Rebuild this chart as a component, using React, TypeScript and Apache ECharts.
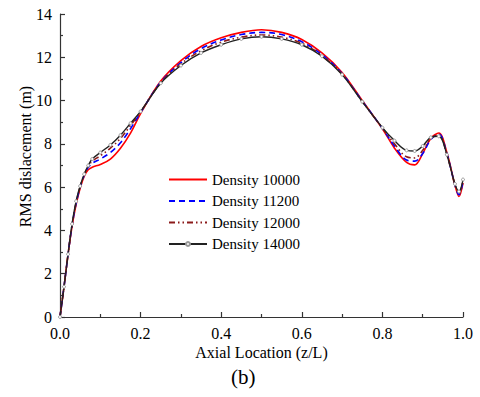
import React, { useEffect, useRef } from "react";
import * as echarts from "echarts";

const zPos = [0, 0.01, 0.02, 0.03, 0.04, 0.05, 0.06, 0.07, 0.08, 0.1, 0.125, 0.15, 0.175, 0.2, 0.25, 0.3, 0.35, 0.4, 0.45, 0.5, 0.55, 0.6, 0.65, 0.7, 0.75, 0.8, 0.83, 0.86, 0.88, 0.9, 0.92, 0.94, 0.96, 0.98, 0.99, 1.0];

const density10000 = [0, 1.4, 2.9, 4.2, 5.2, 5.95, 6.5, 6.8, 6.92, 7.05, 7.3, 7.8, 8.5, 9.4, 10.9, 11.85, 12.5, 12.9, 13.15, 13.27, 13.15, 12.82, 12.2, 11.3, 10.0, 8.7, 7.8, 7.14, 7.03, 7.55, 8.25, 8.5, 7.6, 6.1, 5.57, 6.2];
const density11200 = [0, 1.4, 2.9, 4.25, 5.25, 6.0, 6.55, 6.9, 7.1, 7.3, 7.6, 8.05, 8.7, 9.45, 10.85, 11.75, 12.4, 12.8, 13.05, 13.15, 13.05, 12.72, 12.12, 11.25, 9.98, 8.72, 7.9, 7.25, 7.2, 7.55, 8.2, 8.45, 7.55, 6.1, 5.65, 6.25];
const density12000 = [0, 1.4, 2.9, 4.25, 5.28, 6.02, 6.57, 6.95, 7.2, 7.45, 7.8, 8.25, 8.85, 9.48, 10.82, 11.7, 12.3, 12.7, 12.93, 13.03, 12.93, 12.65, 12.08, 11.22, 9.96, 8.73, 8.0, 7.4, 7.35, 7.7, 8.25, 8.4, 7.5, 6.1, 5.7, 6.3];
const density14000 = [0, 1.4, 2.9, 4.3, 5.35, 6.05, 6.6, 7.0, 7.3, 7.6, 7.95, 8.4, 8.95, 9.5, 10.8, 11.62, 12.2, 12.58, 12.85, 12.95, 12.85, 12.58, 12.05, 11.2, 9.95, 8.75, 8.15, 7.7, 7.67, 7.9, 8.3, 8.35, 7.5, 6.15, 5.8, 6.35];

const seriesNames = ["Density 10000", "Density 11200", "Density 12000", "Density 14000"];

const FONT = "Liberation Serif, Times New Roman, DejaVu Serif, serif";

export default function App() {
  const ref = useRef<HTMLDivElement>(null);
  useEffect(() => {
    if (!ref.current) return;
    const chart = echarts.init(ref.current, undefined, { renderer: "svg" });
    const pair = (vals: number[]) => zPos.map((z, i) => [z, vals[i]]);
    const axisLineStyle = { color: "#333", width: 1.2 };
    const hidden = { opacity: 0 };
    chart.setOption({
      animation: false,
      backgroundColor: "#fff",
      textStyle: { fontFamily: FONT },
      grid: { left: 60, right: 17, top: 14, bottom: 80, containLabel: false },
      legend: {
        orient: "vertical",
        left: 163,
        top: 167,
        itemWidth: 38,
        itemHeight: 5,
        itemGap: 6.5,
        textStyle: { fontFamily: FONT, fontSize: 15, color: "#000", lineHeight: 15 },
        data: [
          { name: seriesNames[0], itemStyle: hidden },
          { name: seriesNames[1], itemStyle: hidden },
          { name: seriesNames[2], itemStyle: hidden },
          { name: seriesNames[3] },
        ],
      },
      xAxis: {
        type: "value",
        min: 0,
        max: 1,
        interval: 0.2,
        name: "Axial Location (z/L)",
        nameLocation: "middle",
        nameMoveOverlap: false,
        nameGap: 27,
        nameTextStyle: { fontFamily: FONT, fontSize: 16, color: "#000" },
        axisLine: { show: true, lineStyle: axisLineStyle },
        axisTick: { show: true, inside: true, length: 5, lineStyle: axisLineStyle },
        minorTick: { show: true, splitNumber: 2, length: 3, lineStyle: axisLineStyle },
        splitLine: { show: false },
        axisLabel: {
          fontFamily: FONT,
          fontSize: 16,
          color: "#000",
          margin: 8,
          formatter: (v: number) => v.toFixed(1),
        },
      },
      yAxis: {
        type: "value",
        min: 0,
        max: 14,
        interval: 2,
        name: "RMS dislacement (m)",
        nameLocation: "middle",
        nameMoveOverlap: false,
        nameGap: 27,
        nameTextStyle: { fontFamily: FONT, fontSize: 16, color: "#000", padding: [0, 0, 0, 18] },
        axisLine: { show: true, lineStyle: axisLineStyle },
        axisTick: { show: true, inside: true, length: 5, lineStyle: axisLineStyle },
        minorTick: { show: true, splitNumber: 2, length: 3, lineStyle: axisLineStyle },
        splitLine: { show: false },
        axisLabel: { fontFamily: FONT, fontSize: 16, color: "#000", margin: 8 },
      },
      graphic: [
        {
          type: "text",
          left: 231,
          top: 366,
          style: { text: "(b)", fontFamily: FONT, fontSize: 21, fill: "#000" },
        },
      ],
      series: [
        {
          name: seriesNames[0],
          type: "line",
          data: pair(density10000),
          smooth: 0.35,
          showSymbol: false,
          symbol: "none",
          lineStyle: { color: "#ff0000", width: 1.6 },
          itemStyle: { color: "#ff0000" },
        },
        {
          name: seriesNames[1],
          type: "line",
          data: pair(density11200),
          smooth: 0.35,
          showSymbol: false,
          symbol: "none",
          lineStyle: { color: "#0000ff", width: 1.6, type: [6, 4] },
          itemStyle: { color: "#0000ff" },
        },
        {
          name: seriesNames[2],
          type: "line",
          data: pair(density12000),
          smooth: 0.35,
          showSymbol: false,
          symbol: "none",
          lineStyle: { color: "#8b1a1a", width: 1.6, type: [6, 3, 1.5, 3, 1.5, 3] },
          itemStyle: { color: "#8b1a1a" },
        },
        {
          name: seriesNames[3],
          type: "line",
          data: pair(density14000),
          smooth: 0.35,
          showSymbol: true,
          symbol: "circle",
          symbolSize: 3,
          lineStyle: { color: "#222", width: 1.4 },
          itemStyle: { color: "#fff", borderColor: "#999", borderWidth: 1 },
        },
      ],
    });
    return () => chart.dispose();
  }, []);
  return (
    <div
      ref={ref}
      style={{ position: "absolute", left: 0, top: 0, width: 480, height: 397 }}
    />
  );
}
